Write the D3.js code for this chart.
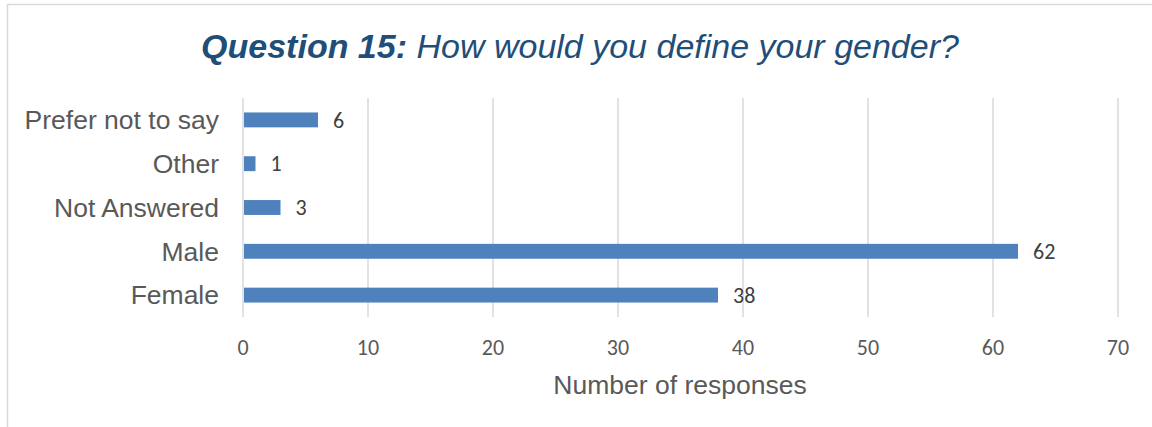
<!DOCTYPE html>
<html><head><meta charset="utf-8">
<script src="https://cdn.jsdelivr.net/npm/d3@7"></script>
<style>body{margin:0;background:#fff}svg{display:block}</style>
</head><body>
<script>
const categories = ["Prefer not to say","Other","Not Answered","Male","Female"];
const values = [6,1,3,62,38];
const xTicks = [0,10,20,30,40,50,60,70];
const titleBold = "Question 15:";
const titleRest = " How would you define your gender?";
const xTitle = "Number of responses";

const W=1152,H=427;
const svg=d3.select("body").append("svg").attr("width",W).attr("height",H);
svg.append("rect").attr("x",7.5).attr("y",4.5).attr("width",W).attr("height",H).attr("fill","#fff").attr("stroke","#d9d9d9").attr("stroke-width",1.5);

const x=d3.scaleLinear().domain([0,70]).range([243,1118]);
const y=d3.scaleBand().domain(categories).range([98,317]).paddingInner(0.66).paddingOuter(0.33);

svg.append("g").selectAll("line").data(xTicks).join("line")
  .attr("x1",d=>x(d)).attr("x2",d=>x(d)).attr("y1",98).attr("y2",317)
  .attr("stroke","#d9d9d9").attr("stroke-width",1.5);

svg.append("g").selectAll("rect").data(categories).join("rect")
  .attr("x",x(0)+1).attr("y",d=>y(d)).attr("height",y.bandwidth())
  .attr("width",(d,i)=>x(values[i])-x(0)-1).attr("fill","#4f81bd");

svg.append("g").selectAll("text").data(categories).join("text")
  .attr("x",(d,i)=>x(values[i])+15).attr("y",d=>y(d)+y.bandwidth()/2)
  .attr("dy","0.35em").attr("font-family","Carlito, Lato, sans-serif").attr("font-size",22).attr("fill","#404040")
  .text((d,i)=>values[i]);

svg.append("g").selectAll("text").data(categories).join("text")
  .attr("x",219).attr("y",d=>y(d)+y.bandwidth()/2).attr("dy","0.35em")
  .attr("text-anchor","end").attr("font-family","Liberation Sans, Arial, sans-serif").attr("font-size",26.5).attr("fill","#595959")
  .text(d=>d);

svg.append("g").selectAll("text").data(xTicks).join("text")
  .attr("x",d=>x(d)).attr("y",347).attr("dy","0.35em").attr("text-anchor","middle")
  .attr("font-family","Carlito, Lato, sans-serif").attr("font-size",22).attr("fill","#595959").text(d=>d);

svg.append("text").attr("x",680).attr("y",385).attr("dy","0.35em").attr("text-anchor","middle")
  .attr("font-family","Liberation Sans, Arial, sans-serif").attr("font-size",26.5).attr("fill","#595959").text(xTitle);

const t=svg.append("text").attr("x",580).attr("y",46).attr("dy","0.35em").attr("text-anchor","middle")
  .attr("font-family","Liberation Sans, Arial, sans-serif").attr("font-size",34).attr("font-style","italic").attr("fill","#1f4e79");
t.append("tspan").attr("font-weight","bold").text(titleBold);
t.append("tspan").text(titleRest);
</script>
</body></html>
